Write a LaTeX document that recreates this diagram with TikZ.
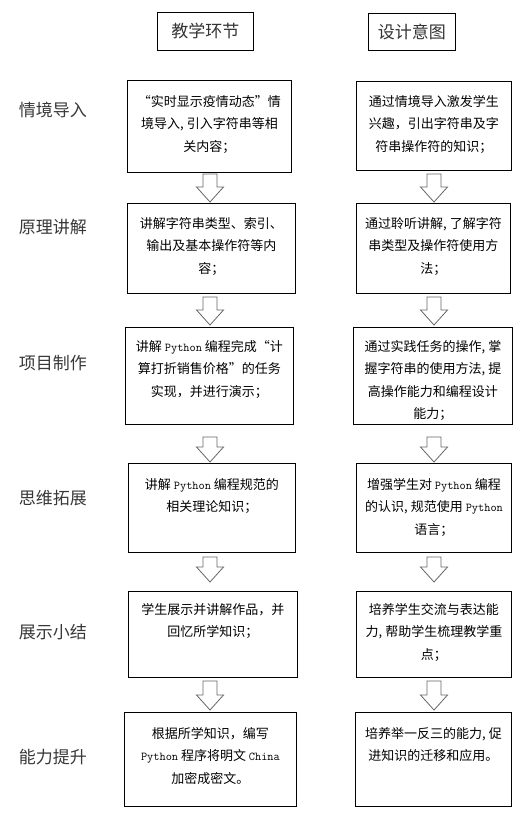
\documentclass[tikz,border=0pt]{standalone}
\usepackage{fontspec}
\setmainfont{Noto Sans CJK SC}
\newcommand\py[1]{{\ttfamily\fontsize{12}{22.5}\selectfont #1}}
\newcommand\hc{,\hspace{0.25em}}
\usetikzlibrary{calc}
\newcommand\blockarrow[3]{\draw[arrowline] (#1-7,#2) -- (#1-7,#3-15) -- (#1-13.5,#3-15) -- (#1,#3) -- (#1+13.5,#3-15) -- (#1+7,#3-15) -- (#1+7,#2) -- cycle;}
\begin{document}
\begin{tikzpicture}[x=1pt,y=-1pt,
  box/.style={draw=black, line width=0.9pt, inner sep=0pt, anchor=north west, fill=white},
  txt/.style={anchor=north, inner sep=0pt, align=center, font=\fontsize{13}{22.5}\selectfont},
  head/.style={draw=black, line width=0.9pt, inner sep=0pt, anchor=north west, font=\fontsize{17}{20}\selectfont, text=black!80},
  lab/.style={inner sep=0pt, font=\fontsize{17}{20}\selectfont, text=black!78},
  arrowline/.style={draw=black!60, line width=0.8pt, fill=white, line join=miter}]
\useasboundingbox (0,0) rectangle (530,814);
\fill[white] (0,0) rectangle (530,814);

% headers
\node[head, minimum width=96, minimum height=38] (H1) at (157,12) {教学环节};
\node[head, minimum width=87, minimum height=37] (H2) at (368,13) {设计意图};

% left labels
\node[lab] (S1) at (53,110) {情境导入};
\node[lab] (S2) at (53,227) {原理讲解};
\node[lab] (S3) at (53,363) {项目制作};
\node[lab] (S4) at (53,498) {思维拓展};
\node[lab] (S5) at (53,632) {展示小结};
\node[lab] (S6) at (53,757) {能力提升};

% boxes left
\node[box, minimum width=164, minimum height=92] (L1) at (127,80) {};
\node[box, minimum width=168, minimum height=90] (L2) at (127,203) {};
\node[box, minimum width=168, minimum height=97] (L3) at (125,327) {};
\node[box, minimum width=167, minimum height=89] (L4) at (128,463) {};
\node[box, minimum width=169, minimum height=86] (L5) at (128,591) {};
\node[box, minimum width=172, minimum height=94] (L6) at (124,712) {};
% boxes right
\node[box, minimum width=155, minimum height=89] (R1) at (356,81) {};
\node[box, minimum width=154, minimum height=90] (R2) at (356,203) {};
\node[box, minimum width=159, minimum height=97] (R3) at (353,327) {};
\node[box, minimum width=155, minimum height=89] (R4) at (356,463) {};
\node[box, minimum width=155, minimum height=86] (R5) at (356,591) {};
\node[box, minimum width=156, minimum height=94] (R6) at (355,712) {};

% texts
\node[txt] (tL1) at ($(L1.north)+(0,15)$) {“实时显示疫情动态”情\\境导入\hc 引入字符串等相\\关内容；};
\node[txt] (tR1) at ($(R1.north)+(0,14)$) {通过情境导入激发学生\\兴趣，引出字符串及字\\符串操作符的知识；};
\node[txt] (tL2) at ($(L2.north)+(0,14)$) {讲解字符串类型、索引、\\输出及基本操作符等内\\容；};
\node[txt] (tR2) at ($(R2.north)+(0,14)$) {通过聆听讲解\hc 了解字符\\串类型及操作符使用方\\法；};
\node[txt] (tL3) at ($(L3.north)+(0,13)$) {讲解 \py{Python} 编程完成“计\\算打折销售价格”的任务\\实现，并进行演示；};
\node[txt] (tR3) at ($(R3.north)+(0,13)$) {通过实践任务的操作\hc 掌\\握字符串的使用方法\hc 提\\高操作能力和编程设计\\能力；};
\node[txt] (tL4) at ($(L4.north)+(0,15)$) {讲解 \py{Python} 编程规范的\\相关理论知识；};
\node[txt] (tR4) at ($(R4.north)+(0,15)$) {增强学生对 \py{Python} 编程\\的认识\hc 规范使用 \py{Python}\\语言；};
\node[txt] (tL5) at ($(L5.north)+(0,12)$) {学生展示并讲解作品，并\\回忆所学知识；};
\node[txt] (tR5) at ($(R5.north)+(0,12)$) {培养学生交流与表达能\\力\hc 帮助学生梳理教学重\\点；};
\node[txt] (tL6) at ($(L6.north)+(0,15)$) {根据所学知识，编写\\\py{Python} 程序将明文 \py{China}\\加密成密文。};
\node[txt] (tR6) at ($(R6.north)+(0,15)$) {培养举一反三的能力\hc 促\\进知识的迁移和应用。};

% block arrows
\blockarrow{210}{174}{202}
\blockarrow{434}{174}{202}
\blockarrow{210}{297}{325}
\blockarrow{434}{297}{325}
\blockarrow{210}{437}{462}
\blockarrow{434}{437}{462}
\blockarrow{210}{557}{582}
\blockarrow{434}{557}{582}
\blockarrow{210}{681}{710}
\blockarrow{434}{681}{710}
\end{tikzpicture}
\end{document}
